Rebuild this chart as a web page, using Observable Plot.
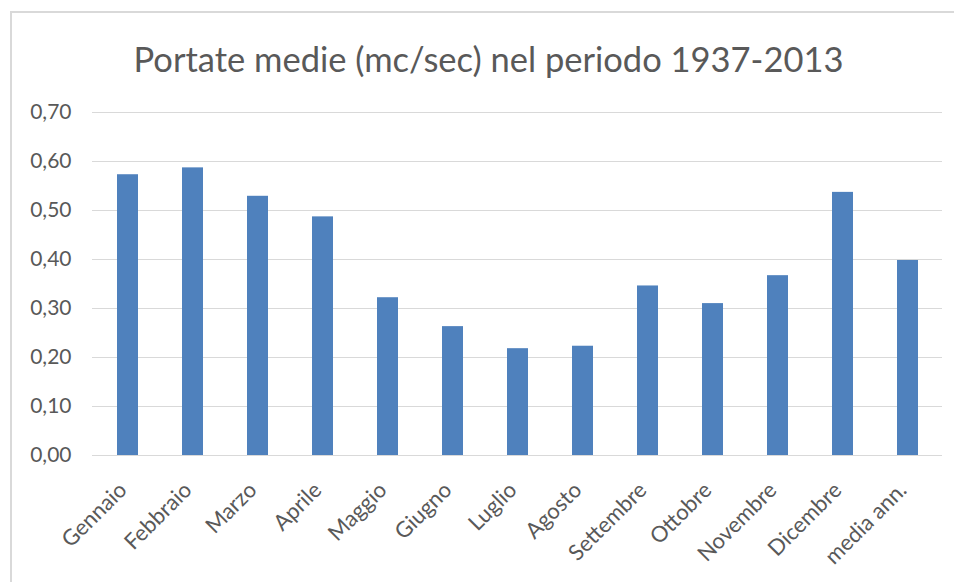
<!DOCTYPE html>
<html>
<head>
<meta charset="utf-8">
<script src="https://cdn.jsdelivr.net/npm/d3@7"></script>
<script src="https://cdn.jsdelivr.net/npm/@observablehq/plot@0.6"></script>
<style>
  html, body { margin: 0; padding: 0; background: #fff; }
  #wrap { position: relative; width: 954px; height: 582px; overflow: hidden; font-family: Lato, "Open Sans", sans-serif; }
  #frame { position: absolute; left: 10px; top: 11px; width: 960px; height: 600px; border-left: 2px solid #d9d9d9; border-top: 2px solid #d9d9d9; box-sizing: border-box; }
  #title { position: absolute; left: 0; width: 977px; top: 37px; text-align: center; font-size: 34.5px; color: #595959; line-height: 44px; }
  #chart { position: absolute; left: 0; top: 0; }
</style>
</head>
<body>
<div id="wrap">
  <div id="frame"></div>
  <div id="title">Portate medie (mc/sec) nel periodo 1937-2013</div>
  <div id="chart"></div>
</div>
<script>
const categories = ["Gennaio","Febbraio","Marzo","Aprile","Maggio","Giugno","Luglio","Agosto","Settembre","Ottobre","Novembre","Dicembre","media ann."];
const values = [0.573,0.587,0.529,0.487,0.322,0.263,0.218,0.223,0.346,0.310,0.367,0.537,0.398];
const yTicks = [0,0.1,0.2,0.3,0.4,0.5,0.6,0.7];

const data = categories.map((c, i) => ({cat: c, v: values[i]}));
const fmt = d => d3.format(".2f")(d).replace(".", ",");

const chart = Plot.plot({
  width: 954,
  height: 582,
  marginTop: 112,
  marginBottom: 127,
  marginLeft: 92,
  marginRight: 12,
  style: {fontFamily: "Lato, 'Open Sans', sans-serif", color: "#595959", background: "transparent"},
  x: {domain: categories, paddingInner: 0.68, paddingOuter: 0.34, label: null},
  y: {domain: [0, 0.7], label: null},
  marks: [
    Plot.gridY(yTicks, {stroke: "#d9d9d9", strokeOpacity: 1, strokeWidth: 1.2}),
    Plot.barY(data, {x: "cat", y: "v", fill: "#4f81bd"}),
    Plot.axisY(yTicks, {tickSize: 0, tickPadding: 21, tickFormat: fmt, fontSize: 21, fill: "#595959"}),
    Plot.axisX({tickSize: 0, tickRotate: -45, tickPadding: 31, dx: -5, fontSize: 22, fill: "#595959"})
  ]
});
document.getElementById("chart").appendChild(chart);
</script>
</body>
</html>
